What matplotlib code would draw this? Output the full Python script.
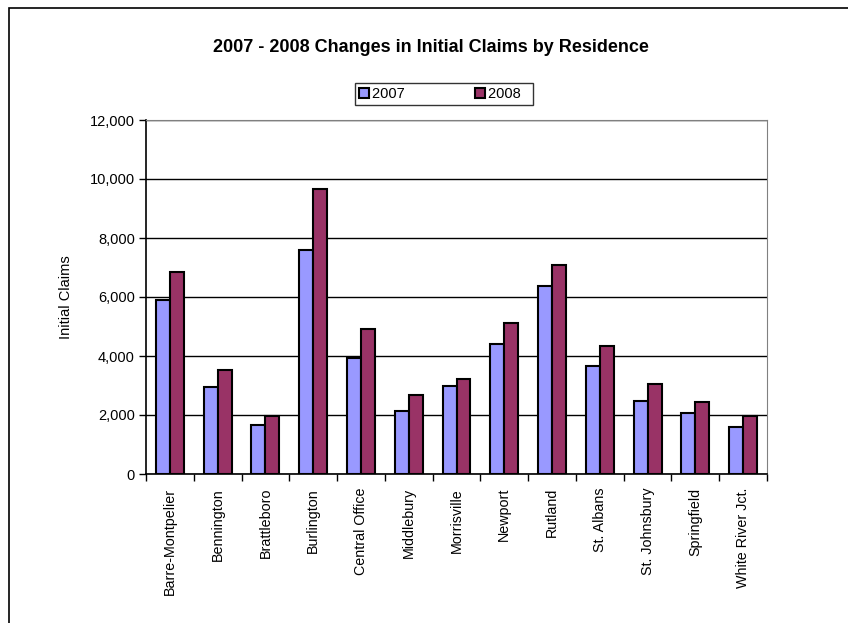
import numpy as np
import matplotlib
matplotlib.use("Agg")
import matplotlib.pyplot as plt
from matplotlib.patches import Rectangle
from matplotlib.ticker import FuncFormatter, MultipleLocator

# office names and yearly claims
offices = ["Barre-Montpelier", "Bennington", "Brattleboro", "Burlington",
           "Central Office", "Middlebury", "Morrisville", "Newport", "Rutland",
           "St. Albans", "St. Johnsbury", "Springfield", "White River Jct."]
claims_2007 = [5900, 2940, 1670, 7590, 3930, 2140, 2980, 4410, 6380, 3670, 2480, 2070, 1600]
claims_2008 = [6850, 3520, 1950, 9650, 4920, 2680, 3210, 5130, 7100, 4340, 3050, 2450, 1970]

narrow = ["Liberation Sans Narrow", "Liberation Sans", "DejaVu Sans"]
regular = ["Liberation Sans", "DejaVu Sans"]

fig = plt.figure(figsize=(8.48, 6.23), dpi=100)
# outer chart border
fig.patches.append(Rectangle((9 / 848, -0.01), 1.0, 1.0 - 8 / 623 + 0.01,
                             transform=fig.transFigure, fill=False,
                             edgecolor="black", linewidth=1.2))

ax = fig.add_axes([146 / 848, 1 - 474 / 623, (767 - 146) / 848, (474 - 120) / 623])

x = np.arange(len(offices))
w = 0.293
ax.bar(x - w / 2, claims_2007, w, color="#9999FF", edgecolor="black", linewidth=1.5,
       label="2007", zorder=3)
ax.bar(x + w / 2, claims_2008, w, color="#993366", edgecolor="black", linewidth=1.5,
       label="2008", zorder=3)

ax.set_xlim(-0.5, len(offices) - 0.5)
ax.set_ylim(0, 12000)
ax.yaxis.set_major_locator(MultipleLocator(2000))
ax.yaxis.set_major_formatter(FuncFormatter(lambda v, p: f"{int(v):,}"))
ax.grid(axis="y", color="black", linewidth=1.0, zorder=0)

ax.set_xticks(x)
ax.set_xticklabels(offices, rotation=90, family=regular, fontsize=10.3)
ax.tick_params(axis="x", length=0, pad=10)
ax.set_xticks(np.arange(-0.5, len(offices), 1.0), minor=True)
ax.tick_params(axis="x", which="minor", length=5, width=1, color="black", direction="out")
ax.tick_params(axis="y", length=5, width=1, direction="out", pad=3)
for lbl in ax.get_yticklabels():
    lbl.set_family(narrow)
    lbl.set_fontsize(10.5)

for side in ["left", "bottom"]:
    ax.spines[side].set_color("black")
    ax.spines[side].set_linewidth(1.2)
ax.spines["right"].set_color("#808080")
ax.spines["top"].set_color("#808080")

ax.set_ylabel("Initial Claims", family=narrow, fontsize=10.5, labelpad=12)

fig.text(0.5 * (146 + 767) / 848 - 0.03, 1 - 47 / 623,
         "2007 - 2008 Changes in Initial Claims by Residence",
         ha="center", va="center", family=narrow, fontsize=13, fontweight="bold")

leg = fig.legend(loc="center", bbox_to_anchor=(444 / 848, 1 - 94 / 623), ncol=2,
                 prop={"family": narrow, "size": 10.5}, frameon=True, fancybox=False,
                 edgecolor="black", handlelength=0.7, handleheight=0.7,
                 handletextpad=0.2, columnspacing=4.2, borderpad=0.3)
leg.get_frame().set_linewidth(1.0)
for t in leg.get_texts():
    t.set_text(t.get_text() + "  ")

fig.savefig("out.png", dpi=100)
